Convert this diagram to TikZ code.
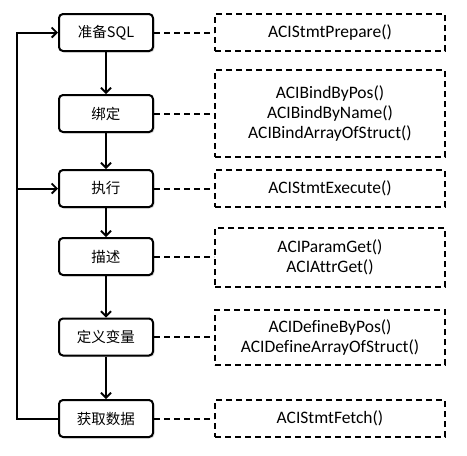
\documentclass[tikz,border=0pt]{standalone}
\usepackage{fontspec}
\setmainfont{Carlito}[Ligatures=NoCommon]
\newfontfamily\cjk{Noto Sans CJK SC}
\usetikzlibrary{arrows.meta,positioning,shadows}

\begin{document}
\begin{tikzpicture}[x=1pt, y=-1pt,
    stage/.style={draw, line width=2pt, rounded corners=4pt, fill=white,
      minimum width=94pt, minimum height=37pt, inner sep=0pt,
      font=\cjk\fontsize{14.5}{18}\selectfont,
      drop shadow={shadow xshift=1.5pt, shadow yshift=-1.5pt, opacity=0.25}},
    api/.style={draw, dash pattern=on 6pt off 4pt, line width=2pt,
      minimum width=230pt, inner sep=0pt, align=center,
      font=\fontsize{17.5}{20}\selectfont},
    flow/.style={line width=2pt, -{Straight Barb[length=5pt, width=10pt, line width=1.8pt]}},
    link/.style={line width=2pt, dash pattern=on 6pt off 4pt}]
  \useasboundingbox (0,0) rectangle (467,456);
  % Left column: the call sequence
  \node[stage] (prep)  at (106, 32.5)  {准备SQL};
  \node[stage] (bind)  at (106, 113.5) {绑定};
  \node[stage] (exec)  at (106, 188.5) {执行};
  \node[stage] (desc)  at (106, 256.5) {描述};
  \node[stage] (defn)  at (106, 337)   {定义变量};
  \node[stage] (fetch) at (106, 418.5) {获取数据};
  % Right column: API functions for each step
  \node[api, minimum height=37pt] (aprep)  at (330, 32.5)  {ACIStmtPrepare()};
  \node[api, minimum height=87pt] (abind)  at (330, 113.5) {ACIBindByPos()\\ACIBindByName()\\ACIBindArrayOfStruct()};
  \node[api, minimum height=37pt] (aexec)  at (330, 188.5) {ACIStmtExecute()};
  \node[api, minimum height=59pt] (adesc)  at (330, 257.5) {ACIParamGet()\\ACIAttrGet()};
  \node[api, minimum height=55pt] (adefn)  at (330, 337.5) {ACIDefineByPos()\\ACIDefineArrayOfStruct()};
  \node[api, minimum height=37pt] (afetch) at (330, 418.5) {ACIStmtFetch()};
  % Downward flow
  \draw[flow] (prep) -- (bind);
  \draw[flow] (bind) -- (exec);
  \draw[flow] (exec) -- (desc);
  \draw[flow] (desc) -- (defn);
  \draw[flow] (defn) -- (fetch);
  % Loop back on the left
  \coordinate (loop) at (17, 418.5);
  \draw[flow] (fetch.west) -- (loop) |- (prep.west);
  \draw[flow] (loop |- exec.west) -- (exec.west);
  % Dashed links
  \draw[link] (prep.east)  -- (aprep.west);
  \draw[link] (bind.east)  -- (abind.west);
  \draw[link] (exec.east)  -- (aexec.west);
  \draw[link] (desc.east)  -- (desc.east -| adesc.west);
  \draw[link] (defn.east)  -- (defn.east -| adefn.west);
  \draw[link] (fetch.east) -- (afetch.west);
\end{tikzpicture}
\end{document}
